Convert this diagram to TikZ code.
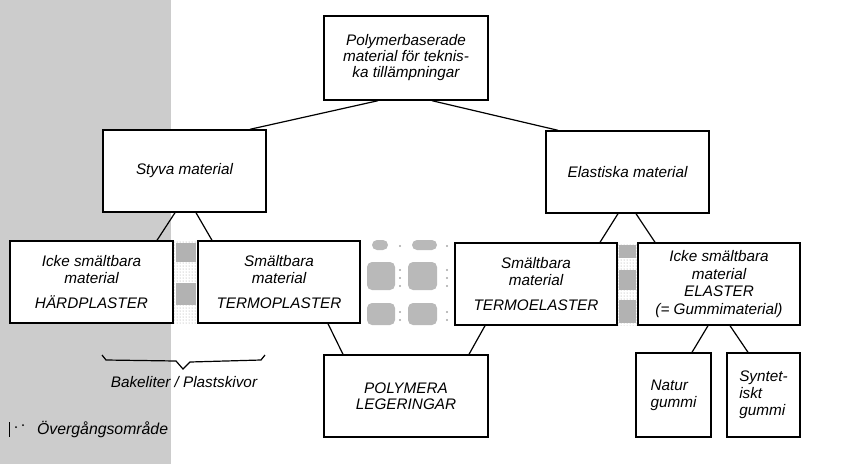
\documentclass[tikz,border=0pt]{standalone}
\usepackage{fontspec}
\setmainfont{Liberation Sans}
\usetikzlibrary{patterns,calc}
\begin{document}
\begin{tikzpicture}[x=1pt,y=-1pt,
  box/.style={draw, line width=1.4pt, fill=white, inner sep=0pt,
    font=\fontsize{15.3}{17}\selectfont\itshape, align=center},
  conn/.style={line width=1.2pt},
  txt/.style={inner sep=0pt, font=\fontsize{15.3}{17}\selectfont\itshape},
  darkdots/.style={fill=gray!60},
  lightdots/.style={pattern=dots, pattern color=gray!80},
  blob/.style={fill=gray!55, rounded corners=5pt}]
\useasboundingbox (0,0) rectangle (848,464);
\fill[gray!40] (0,0) rectangle (171,464);

% transition strips
\fill[lightdots] (173,241) rectangle (198,323);
\fill[darkdots] (176,243) rectangle (196,262);
\fill[darkdots] (176,283) rectangle (196,305);
\fill[lightdots] (617,243) rectangle (638,325);
\fill[darkdots] (619,245) rectangle (636,258);
\fill[darkdots] (619,270) rectangle (636,290);
\fill[darkdots] (619,300) rectangle (636,323);

% blobs between TERMOPLASTER and TERMOELASTER
\fill[blob] (372,240) rectangle (388,250);
\fill[blob] (412,240) rectangle (437,250);
\fill[blob] (367,262) rectangle (395,290);
\fill[blob] (408,262) rectangle (437,290);
\fill[blob] (367,303) rectangle (395,325);
\fill[blob] (408,303) rectangle (437,325);
\foreach \yy in {246,270,278,286,312,320} {
  \fill[gray!70] (400,\yy) circle (1.2pt);
  \fill[gray!70] (447,\yy) circle (1.2pt);
}

% boxes
\node[box, minimum width=164pt, minimum height=84pt, font=\fontsize{15.3}{16}\selectfont\itshape] (top) at (406,58)
  {Polymerbaserade\\material för teknis-\\ka tillämpningar};
\node[box, minimum width=163pt, minimum height=82pt] (styva) at (184.5,171) {Styva material};
\node[box, minimum width=163pt, minimum height=82pt] (elast) at (627.5,172) {Elastiska material};
\node[box, minimum width=163pt, minimum height=82pt] (hard) at (91.5,282)
  {Icke smältbara\\material\\[8pt]HÄRDPLASTER};
\node[box, minimum width=162pt, minimum height=82pt] (termo) at (279,282)
  {Smältbara\\material\\[8pt]TERMOPLASTER};
\node[box, minimum width=162pt, minimum height=82pt] (termoel) at (536,284)
  {Smältbara\\material\\[8pt]TERMOELASTER};
\node[box, minimum width=162pt, minimum height=82pt, font=\fontsize{15.3}{17.5}\selectfont\itshape] (elaster) at (719,284)
  {Icke smältbara\\material\\ELASTER\\(= Gummimaterial)};
\node[box, minimum width=164pt, minimum height=82pt, font=\fontsize{15.3}{15.5}\selectfont\itshape] (poly) at (406,396)
  {POLYMERA\\LEGERINGAR};
\node[box, align=left, minimum width=75pt, minimum height=84pt] (natur) at (673.5,395)
  {Natur\\gummi};
\node[box, align=left, minimum width=73pt, minimum height=84pt] (synt) at (763.5,395)
  {Syntet-\\iskt\\gummi};

% connectors
\draw[conn] ([xshift=-28pt]top.south) -- ([xshift=65.5pt]styva.north);
\draw[conn] ([xshift=26pt]top.south) -- ([xshift=-69.5pt]elast.north);
\draw[conn] ([xshift=-9.5pt]styva.south) -- ([xshift=65.5pt]hard.north);
\draw[conn] ([xshift=11.5pt]styva.south) -- ([xshift=-67pt]termo.north);
\draw[conn] ([xshift=-9.5pt]elast.south) -- ([xshift=64pt]termoel.north);
\draw[conn] ([xshift=8.5pt]elast.south) -- ([xshift=-64pt]elaster.north);
\draw[conn] ([xshift=49pt]termo.south) -- ([xshift=-63pt]poly.north);
\draw[conn] ([xshift=-51pt]termoel.south) -- ([xshift=63pt]poly.north);
\draw[conn] ([xshift=-11pt]elaster.south) -- ([xshift=18.5pt]natur.north);
\draw[conn] ([xshift=11pt]elaster.south) -- ([xshift=-15.5pt]synt.north);

% brace
\draw[line width=1.2pt] (102,355) -- (106,360) -- (176,361) -- (183,369) -- (190,362) -- (261,360) -- (265,355);
\node[txt] (bracelabel) at (184,382) {Bakeliter / Plastskivor};

% legend
\draw[line width=1pt] (9,422) -- (9,437);
\fill (16,427) circle (1pt);
\fill (23,425) circle (1pt);
\node[txt, anchor=west, font=\fontsize{15.8}{17}\selectfont\itshape] (legend) at (37,430) {Övergångsområde};
\end{tikzpicture}
\end{document}
